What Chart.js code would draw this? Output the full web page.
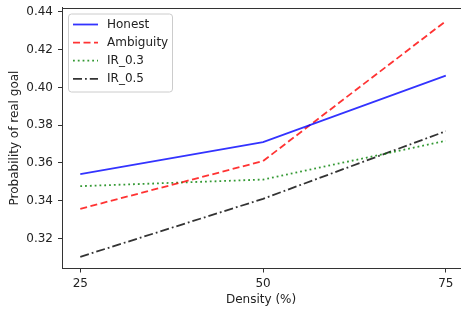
<!DOCTYPE html>
<html>
<head>
<meta charset="utf-8">
<script src="https://cdn.jsdelivr.net/npm/chart.js@4/dist/chart.umd.min.js"></script>
<style>
  html, body { margin: 0; overflow: hidden; background: #fff; }
  canvas { display: block; }
</style>
</head>
<body>
<canvas id="density-chart" width="461" height="314"></canvas>
<script>
// data
const densities = [25, 50, 75];
const honest = [0.3541, 0.3710, 0.4062];
const ambiguity = [0.3357, 0.3610, 0.4351];
const ir03 = [0.3477, 0.3512, 0.3717];
const ir05 = [0.3103, 0.3410, 0.3768];
const yTicks = [0.32, 0.34, 0.36, 0.38, 0.40, 0.42, 0.44];

const FONT = { family: 'DejaVu Sans', size: 12 };
const TEXT = '#222';

// the reference plot box runs past the right edge of the crop
const PLOT_LEFT = 62, PLOT_RIGHT = 465;
const X_MIN = 22.5, X_MAX = 77.5;

function toPoints(values) {
  return values.map((v, i) => ({ x: densities[i], y: v }));
}

function makeSet(label, values, color, dash) {
  return {
    label: label,
    data: toPoints(values),
    borderColor: color,
    borderDash: dash,
    borderWidth: 1.8,
    pointRadius: 0,
    fill: false,
    tension: 0,
  };
}

// legend box inside the plot, like matplotlib's upper left legend
const boxLegend = {
  id: 'boxLegend',
  afterDatasetsDraw(chart) {
    const ctx = chart.ctx;
    const area = chart.chartArea;
    const x0 = area.left + 6, y0 = area.top + 6;
    const w = 104, h = 78;
    ctx.save();
    ctx.fillStyle = 'rgba(255,255,255,0.8)';
    ctx.strokeStyle = '#cccccc';
    ctx.lineWidth = 1;
    ctx.beginPath();
    ctx.roundRect(x0 + 0.5, y0 + 0.5, w, h, 3);
    ctx.fill();
    ctx.stroke();
    ctx.font = '12px "DejaVu Sans"';
    ctx.textBaseline = 'middle';
    chart.data.datasets.forEach((ds, i) => {
      const y = y0 + 11 + i * 18.1;
      ctx.strokeStyle = ds.borderColor;
      ctx.lineWidth = ds.borderWidth;
      ctx.setLineDash(ds.borderDash || []);
      ctx.beginPath();
      ctx.moveTo(x0 + 5, y);
      ctx.lineTo(x0 + 30, y);
      ctx.stroke();
      ctx.setLineDash([]);
      ctx.fillStyle = TEXT;
      ctx.fillText(ds.label, x0 + 39, y);
    });
    ctx.restore();
  },
  afterDraw(chart) {
    const ctx = chart.ctx;
    const a = chart.chartArea;
    ctx.save();
    // the right spine is cropped off in the reference: keep that strip clear
    ctx.fillStyle = '#fff';
    ctx.fillRect(a.right - 4, a.top + 1, chart.width - a.right + 4, a.bottom - a.top - 2);
    // top spine, out to the edge
    ctx.strokeStyle = '#333';
    ctx.lineWidth = 1;
    ctx.beginPath();
    ctx.moveTo(Math.round(a.left) + 0.5, Math.round(a.top) + 0.5);
    ctx.lineTo(chart.width, Math.round(a.top) + 0.5);
    ctx.stroke();
    ctx.restore();
  },
};

function noPad(scale) {
  scale.paddingTop = 0;
  scale.paddingBottom = 0;
  scale.paddingLeft = 0;
  scale.paddingRight = 0;
}

const ctx = document.getElementById('density-chart').getContext('2d');
const densityChart = new Chart(ctx, {
  type: 'line',
  data: {
    datasets: [
      makeSet('Honest', honest, 'rgba(0,0,255,0.8)', []),
      makeSet('Ambiguity', ambiguity, 'rgba(255,0,0,0.8)', [7, 3.5]),
      makeSet('IR_0.3', ir03, 'rgba(0,128,0,0.8)', [1.8, 3]),
      makeSet('IR_0.5', ir05, 'rgba(0,0,0,0.8)', [9, 3, 1.8, 3]),
    ],
  },
  options: {
    responsive: false,
    animation: false,
    layout: { padding: { top: 7.5, right: 0, left: 0, bottom: 0 } },
    plugins: { legend: { display: false }, tooltip: { enabled: false } },
    scales: {
      x: {
        type: 'linear',
        min: X_MIN,
        max: X_MAX,
        afterBuildTicks: (scale) => { scale.ticks = densities.map((v) => ({ value: v })); },
        afterFit: (scale) => { scale.height = 45.5; noPad(scale); },
        grid: { drawOnChartArea: false, drawTicks: true, tickLength: 4, color: '#333' },
        border: { display: true, color: '#333', width: 1 },
        ticks: { font: FONT, color: TEXT, padding: 4, maxRotation: 0 },
        title: { display: true, text: 'Density (%)', font: FONT, color: TEXT, padding: { top: 0, bottom: 7 } },
      },
      y: {
        min: 0.3041,
        max: 0.4423,
        afterBuildTicks: (scale) => { scale.ticks = yTicks.map((v) => ({ value: v })); },
        afterFit: (scale) => { scale.width = PLOT_LEFT; noPad(scale); },
        grid: { drawOnChartArea: false, drawTicks: true, tickLength: 4, color: '#333' },
        border: { display: true, color: '#333', width: 1 },
        ticks: { font: FONT, color: TEXT, padding: 5, callback: (v) => v.toFixed(2) },
        title: { display: true, text: 'Probability of real goal', font: FONT, color: TEXT, padding: { top: 8, bottom: 0 } },
      },
    },
  },
  plugins: [boxLegend],
});

// stretch the x range so the scale behaves as if the box reached PLOT_RIGHT
(function alignX(chart) {
  const a = chart.chartArea;
  const ppu = (PLOT_RIGHT - PLOT_LEFT) / (X_MAX - X_MIN);
  chart.options.scales.x.min = X_MIN + (a.left - PLOT_LEFT) / ppu;
  chart.options.scales.x.max = X_MIN + (a.right - PLOT_LEFT) / ppu;
  chart.update('none');
})(densityChart);
</script>
</body>
</html>
